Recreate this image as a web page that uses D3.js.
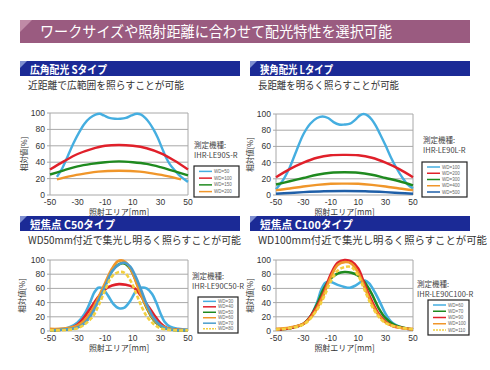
<!DOCTYPE html>
<html>
<head>
<meta charset="utf-8">
<script src="https://cdn.jsdelivr.net/npm/d3@7"></script>
<style>
  body { margin: 0; background: #fff; }
  svg { display: block; font-family: "Noto Sans CJK JP", "Noto Sans", sans-serif; }
  .num { font-family: "Liberation Sans", Arial, sans-serif; }
</style>
</head>
<body>
<svg id="chart" width="490" height="370"></svg>
<script>
const pageTitle = "ワークサイズや照射距離に合わせて配光特性を選択可能";
const headers = ["広角配光 Sタイプ", "狭角配光 Lタイプ", "短焦点 C50タイプ", "短焦点 C100タイプ"];
const subtitles = ["近距離で広範囲を照らすことが可能", "長距離を明るく照らすことが可能",
  "WD50mm付近で集光し明るく照らすことが可能", "WD100mm付近で集光し明るく照らすことが可能"];
const models = ["IHR-LE90S-R", "IHR-LE90L-R", "IHR-LE90C50-R", "IHR-LE90C100-R"];
const xTicks = [-50, -30, -10, 10, 30, 50];
const yTicks = [0, 20, 40, 60, 80, 100];

// S type
const sLabels = ["WD=50", "WD=100", "WD=150", "WD=200"];
const sWd50 = [[-45,22],[-41,33],[-37,48],[-33,63],[-29,76],[-25,87],[-21,94],[-17,98],[-14,99],[-11,97],[-7,94],[-3,93],[1,93],[5,94],[9,97],[13,99],[16,98],[19,94],[22,88],[25,80],[28,70],[31,58],[34,46],[37,37],[41,29],[45,22],[50,16]];
const sWd100 = [[-50,31],[-40,41],[-30,50],[-20,56],[-10,60],[0,61],[10,60],[20,57],[30,51],[40,42],[50,31]];
const sWd150 = [[-50,25],[-40,30],[-30,35],[-20,38],[-10,40],[0,41],[10,40],[20,38],[30,34],[40,29],[50,24]];
const sWd200 = [[-45,19],[-35,23],[-25,26],[-15,28.5],[0,29.5],[15,28.5],[25,26],[35,23],[45,19]];

// L type
const lLabels = ["WD=100", "WD=200", "WD=300", "WD=400", "WD=500"];
const lWd100 = [[-50,7],[-45,18],[-40,34],[-35,55],[-30,75],[-25,88],[-20,95],[-16,97],[-12,95],[-8,90],[-4,87],[0,87],[4,88],[8,93],[11,98],[14,100],[17,98],[20,93],[23,85],[26,75],[30,61],[34,46],[38,33],[42,22],[46,13],[50,8]];
const lWd200 = [[-50,22],[-40,32],[-30,40],[-20,46],[-10,49],[0,49.5],[10,49],[20,46],[30,40],[40,32],[50,22]];
const lWd300 = [[-50,13],[-40,17],[-30,21],[-20,25],[-10,27.5],[0,28],[10,27.5],[20,25],[30,21],[40,17],[50,12]];
const lWd400 = [[-50,6],[-40,8],[-30,10.5],[-20,12.5],[-10,13.8],[0,14],[10,13.8],[20,12.5],[30,10.5],[40,8],[50,6]];
const lWd500 = [[-50,1.5],[-40,2.5],[-30,3.5],[-15,4.6],[0,5],[15,4.6],[30,3.5],[40,2.5],[50,1.5]];

// C50 type
const c50Labels = ["WD=30", "WD=40", "WD=50", "WD=60", "WD=70", "WD=80"];
const c50Wd30 = [[-50,2],[-40,3],[-35,6],[-30,12],[-25,24],[-21,40],[-18,54],[-15,61],[-12,60],[-8,50],[-4,38],[0,32],[4,33],[8,42],[12,55],[16,61],[20,60],[24,52],[27,40],[30,25],[33,13],[37,6],[43,3],[50,2]];
const c50Wd40 = [[-50,1],[-40,2],[-35,4],[-30,9],[-25,20],[-20,34],[-15,48],[-10,59],[-5,64],[0,66],[5,65],[10,62],[15,52],[20,38],[25,24],[30,11],[35,4],[40,2],[50,1]];
const c50Wd50 = [[-50,1],[-40,2],[-30,6],[-25,13],[-20,26],[-15,45],[-10,65],[-5,85],[0,94],[4,95],[8,88],[12,72],[16,52],[20,33],[25,16],[30,7],[35,3],[40,1.5],[50,1]];
const c50Wd60 = [[-50,3],[-40,3.5],[-30,8],[-25,15],[-20,28],[-15,47],[-10,68],[-5,88],[-1,98],[3,99],[7,92],[11,76],[15,55],[20,34],[25,17],[30,8],[35,4],[40,2],[50,1.5]];
const c50Wd70 = [[-50,1],[-40,2],[-30,5],[-25,11],[-20,23],[-15,42],[-10,63],[-5,84],[0,94],[4,96],[8,91],[12,77],[16,58],[20,38],[25,19],[30,8],[35,3],[40,1.5],[50,1]];
const c50Wd80 = [[-50,1],[-30,4],[-20,18],[-15,35],[-10,58],[-5,77],[0,83],[4,82],[8,72],[12,55],[16,36],[20,21],[25,10],[30,4],[40,1],[50,1]];

// C100 type
const c100Labels = ["WD=60", "WD=70", "WD=90", "WD=100", "WD=110"];
const c100Wd60 = [[-50,2],[-40,4],[-30,10],[-25,20],[-20,40],[-17,58],[-14,68],[-10,69],[-5,65],[0,62],[4,61],[8,64],[12,69],[15,71],[18,67],[22,55],[26,40],[30,24],[34,13],[38,8],[44,4],[50,2]];
const c100Wd70 = [[-50,2],[-40,4],[-30,10],[-25,20],[-20,38],[-15,60],[-10,74],[-5,81],[0,83],[5,82],[10,78],[15,68],[20,52],[25,32],[30,18],[35,10],[40,6],[50,2]];
const c100Wd90 = [[-50,2],[-40,4],[-30,10],[-25,20],[-20,35],[-15,55],[-10,80],[-5,96],[0,100],[5,98],[10,88],[15,64],[20,42],[25,24],[30,13],[35,7],[40,5],[50,2]];
const c100Wd100 = [[-50,3],[-40,5],[-30,10],[-25,18],[-20,32],[-15,52],[-10,76],[-5,93],[0,97],[5,95],[10,82],[15,60],[20,38],[25,22],[30,12],[40,5],[50,3]];
const c100Wd110 = [[-50,2],[-30,9],[-20,30],[-15,48],[-10,70],[-5,85],[0,90],[5,90],[10,78],[15,56],[20,35],[25,20],[30,11],[40,5],[50,2]];

const blue = "#45aee0", red = "#e0202a", green = "#1f8a1f", orange = "#f0962a",
      navy = "#1f5fa8", steel = "#4a9ccc", yellow = "#f2d040";

const panels = [
  { x0: 50, x1: 188, y0: 113, y1: 195, hy: 61, sy: 89, tx: 24, hw: 77, sw: 156,
    series: [sWd50, sWd100, sWd150, sWd200], colors: [blue, red, green, orange],
    labels: sLabels, lg: [194, 166, 45, 31], mx: 194, my: 148 },
  { x0: 276, x1: 413, y0: 114, y1: 195, hy: 61, sy: 89, tx: 250, hw: 73, sw: 141,
    series: [lWd100, lWd200, lWd300, lWd400, lWd500], colors: [blue, red, green, orange, navy],
    labels: lLabels, lg: [422, 162, 45, 35], mx: 423, my: 143 },
  { x0: 50, x1: 188, y0: 260, y1: 331, hy: 216, sy: 244, tx: 22, hw: 85, sw: 213,
    series: [c50Wd30, c50Wd40, c50Wd50, c50Wd60, c50Wd70, c50Wd80],
    colors: [blue, red, green, orange, steel, yellow], dashed: 5,
    labels: c50Labels, lg: [198, 297, 40, 36], mx: 192, my: 279 },
  { x0: 276, x1: 413, y0: 260, y1: 331, hy: 216, sy: 244, tx: 250, hw: 93, sw: 229,
    series: [c100Wd60, c100Wd70, c100Wd90, c100Wd100, c100Wd110],
    colors: [blue, green, red, orange, yellow], dashed: 4,
    labels: c100Labels, lg: [428, 300, 41, 35], mx: 417, my: 287 }
];

const svg = d3.select("#chart");

// title banner
svg.append("rect").attr("x", 20).attr("y", 20).attr("width", 450).attr("height", 23).attr("fill", "#9a5b80");
svg.append("path").attr("d", "M20,20H32L20,32Z").attr("fill", "#c08aa6");
svg.append("text").attr("x", 40).attr("y", 37).attr("fill", "#fff")
  .attr("font-size", 15).attr("textLength", 352).attr("lengthAdjust", "spacingAndGlyphs").text(pageTitle);

panels.forEach((p, i) => {
  const left = i % 2 === 0;
  const hx = left ? 20 : 250;
  const g = svg.append("g");

  // section header
  g.append("rect").attr("x", hx).attr("y", p.hy).attr("width", 220).attr("height", 15).attr("fill", "#1b2a96");
  g.append("path").attr("d", `M${hx},${p.hy}H${hx + 7}L${hx},${p.hy + 7}Z`).attr("fill", "#7f8fd0");
  g.append("text").attr("x", hx + 10).attr("y", p.hy + 12.5).attr("fill", "#fff")
    .attr("font-size", 11).attr("font-weight", "bold")
    .attr("textLength", p.hw).attr("lengthAdjust", "spacingAndGlyphs").text(headers[i]);
  g.append("text").attr("x", hx + 8).attr("y", p.sy).attr("fill", "#333")
    .attr("font-size", i < 2 ? 10 : 10.5)
    .attr("textLength", p.sw).attr("lengthAdjust", "spacingAndGlyphs").text(subtitles[i]);

  const x = d3.scaleLinear([-50, 50], [p.x0, p.x1]);
  const y = d3.scaleLinear([0, 100], [p.y1, p.y0]);

  // grid + box
  g.selectAll("line.grid").data(yTicks).join("line").attr("class", "grid")
    .attr("x1", p.x0 - 3).attr("x2", p.x1).attr("y1", d => y(d)).attr("y2", d => y(d))
    .attr("stroke", "#a8a8a8").attr("stroke-width", 1);
  g.append("line").attr("x1", p.x0).attr("x2", p.x0).attr("y1", p.y0).attr("y2", p.y1).attr("stroke", "#a8a8a8");
  g.append("line").attr("x1", p.x1).attr("x2", p.x1).attr("y1", p.y0).attr("y2", p.y1).attr("stroke", "#a8a8a8");

  g.selectAll("text.yt").data(yTicks).join("text").attr("class", "yt num")
    .attr("x", p.x0 - 5).attr("y", d => y(d)).attr("dy", "0.35em")
    .attr("text-anchor", "end").attr("font-size", 8.5).attr("fill", "#333").text(d => d);
  g.selectAll("text.xt").data(xTicks).join("text").attr("class", "xt num")
    .attr("x", d => x(d)).attr("y", p.y1 + 9.5).attr("text-anchor", "middle")
    .attr("font-size", 8.5).attr("fill", "#333").text(d => d);
  g.append("text").attr("x", (p.x0 + p.x1) / 2).attr("y", p.y1 + 19.5).attr("text-anchor", "middle")
    .attr("font-size", 8).attr("fill", "#333").text("照射エリア[mm]");
  g.append("text").attr("transform", `translate(${p.tx},${(p.y0 + p.y1) / 2}) rotate(-90)`)
    .attr("text-anchor", "middle").attr("dy", "0.35em").attr("font-size", 7.5).attr("fill", "#333").text("相対値[%]");

  // curves
  const line = d3.line().x(d => x(d[0])).y(d => y(d[1])).curve(d3.curveCatmullRom.alpha(0.5));
  g.selectAll("path.curve").data(p.series).join("path").attr("class", "curve")
    .attr("d", line).attr("fill", "none")
    .attr("stroke", (d, k) => p.colors[k])
    .attr("stroke-width", i < 2 ? 2.4 : 2.6)
    .attr("stroke-dasharray", (d, k) => (p.dashed === k ? "4,2" : null));

  // model
  g.append("text").attr("x", p.mx).attr("y", p.my).attr("font-size", 7.5).attr("fill", "#444").text("測定機種:");
  g.append("text").attr("x", p.mx).attr("y", p.my + 10).attr("font-size", 7.5).attr("fill", "#444").text(models[i]);

  // legend
  const [lx, ly, lw, lh] = p.lg;
  g.append("rect").attr("x", lx).attr("y", ly).attr("width", lw).attr("height", lh)
    .attr("fill", "#fff").attr("stroke", "#222").attr("stroke-width", 1.2);
  const step = lh / (p.labels.length + 0.6);
  const items = g.selectAll("g.lg").data(p.labels).join("g").attr("class", "lg")
    .attr("transform", (d, k) => `translate(${lx},${ly + step * (k + 0.8)})`);
  items.append("line").attr("x1", 5).attr("x2", 18).attr("stroke-width", 1.5)
    .attr("stroke", (d, k) => p.colors[k])
    .attr("stroke-dasharray", (d, k) => (p.dashed === k ? "2,1" : null));
  items.append("text").attr("class", "num").attr("x", 20).attr("dy", "0.35em")
    .attr("font-size", 4.5).attr("fill", "#666").text(d => d);
});
</script>
</body>
</html>
